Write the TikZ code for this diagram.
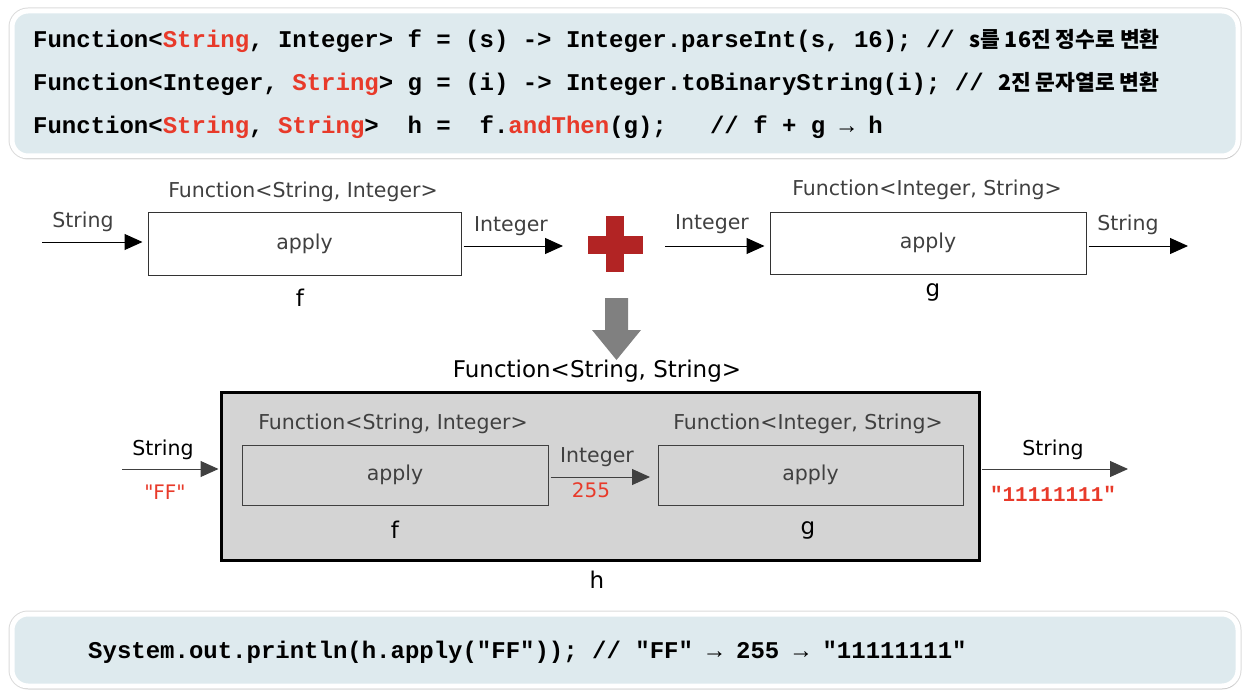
\documentclass[tikz,border=0pt]{standalone}
\usepackage{fontspec}
\setmainfont{DejaVu Sans}
\newfontfamily\codefont{Liberation Mono}
\newfontfamily\krfont{Noto Sans CJK KR}
\usetikzlibrary{arrows.meta,shadows}
\definecolor{panelblue}{RGB}{222,234,238}
\definecolor{codered}{RGB}{232,58,42}
\definecolor{plusred}{RGB}{178,36,36}
\definecolor{hgray}{RGB}{212,212,212}
\newcommand{\rd}[1]{\textcolor{codered}{#1}}
\newcommand{\kor}[1]{{\krfont\bfseries\fontsize{21.5}{24}\selectfont #1}}
\newcommand{\qq}{\textquotedbl}

\begin{document}
\begin{tikzpicture}[x=1pt, y=-1pt,
	codepanel/.style = {draw=white, line width=5pt, fill=panelblue, rounded corners=16pt,
		preaction={draw=black!14, line width=7pt},
		drop shadow={shadow xshift=1pt, shadow yshift=-3pt, opacity=0.25}},
	codeline/.style = {anchor=base west, inner sep=0pt, font=\codefont\bfseries\fontsize{24}{28}\selectfont},
	lbl/.style = {inner sep=0pt, text=black!75, font=\fontsize{20.5}{24}\selectfont},
	fnname/.style = {inner sep=0pt, font=\fontsize{23}{27}\selectfont},
	fnbox/.style = {draw=black!80, line width=1pt, fill=white, inner sep=0pt, text=black!75, font=\fontsize{20.5}{24}\selectfont},
	innerbox/.style = {fnbox, fill=none, draw=black!75},
	hbox/.style = {draw=black, line width=3pt, fill=hgray, inner sep=0pt},
	val/.style = {inner sep=0pt, text=codered, font=\fontsize{20}{23}\selectfont},
	arr/.style = {-{Triangle[length=18pt, width=16pt]}, line width=1pt}
	]
	\useasboundingbox (0,0) rectangle (1248,698);
	
	% code panel
	\path[codepanel] (12,11) rectangle (1238,156);
	\node[codeline] (c1) at (33,48) {Function<\rd{String}, Integer> f = (s) -> Integer.parseInt(s, 16); // \kor{s를 16진 정수로 변환}};
	\node[codeline] (c2) at (33,91) {Function<Integer, \rd{String}> g = (i) -> Integer.toBinaryString(i); // \kor{2진 문자열로 변환}};
	\node[codeline] (c3) at (33,134) {Function<\rd{String}, \rd{String}>~~h =~~f.\rd{andThen}(g);~~~// f + g → h};
	
	% f and g
	\node[fnbox, minimum width=313pt, minimum height=63pt] (f) at (304.5,243.5) {apply};
	\node[fnbox, minimum width=316pt, minimum height=62pt] (g) at (928,243) {apply};
	\node[lbl] (ftitle) at (303,192) {Function<String, Integer>};
	\node[lbl] (gtitle) at (927,190) {Function<Integer, String>};
	\node[fnname] (fname) at (300,298) {f};
	\node[fnname] (gname) at (933,292) {g};
	
	\coordinate (fin) at (42,242);
	\coordinate (fout) at (563,246);
	\coordinate (gin) at (665,246);
	\coordinate (gout) at (1188,246);
	\draw[arr, shorten >=5pt] (fin) -- (f.west |- fin);
	\draw[arr, shorten <=2pt] (f.east |- fout) -- (fout);
	\draw[arr, shorten >=5pt] (gin) -- (g.west |- gin);
	\draw[arr, shorten <=2pt] (g.east |- gout) -- (gout);
	\node[lbl] (finlbl) at (83,222) {String};
	\node[lbl] (foutlbl) at (511,226) {Integer};
	\node[lbl] (ginlbl) at (712,224) {Integer};
	\node[lbl] (goutlbl) at (1128,225) {String};
	
	% plus and down arrow
	\fill[plusred] (588,236) rectangle (643,254);
	\fill[plusred] (606,216) rectangle (624,272);
	\fill[black!50] (605,298) -- (628,298) -- (628,330) -- (641,330) -- (616.5,360) -- (592,330) -- (605,330) -- cycle;
	
	% h = f.andThen(g)
	\node[fnname] (htitle) at (597,371) {Function<String, String>};
	\node[hbox, minimum width=758pt, minimum height=168pt] (h) at (600,476) {};
	\node[innerbox, minimum width=306pt, minimum height=60pt] (hf) at (395,475) {apply};
	\node[innerbox, minimum width=305pt, minimum height=60pt] (hg) at (810.5,475) {apply};
	\node[lbl] (hftitle) at (393,424) {Function<String, Integer>};
	\node[lbl] (hgtitle) at (808,424) {Function<Integer, String>};
	\node[fnname] (hfname) at (395,530) {f};
	\node[fnname] (hgname) at (808,530) {g};
	\node[fnname] (hname) at (597,580) {h};
	
	\coordinate (hin) at (122,469);
	\coordinate (hmid) at (650,477);
	\coordinate (hout) at (1128,469);
	\draw[arr, draw=black!75, shorten >=1pt] (hin) -- (h.west |- hin);
	\draw[arr, draw=black!75, shorten <=2pt] (hf.east |- hmid) -- (hmid);
	\draw[arr, draw=black!75, shorten <=1.5pt] (h.east |- hout) -- (hout);
	\node[lbl, text=black] (hinlbl) at (163,450) {String};
	\node[val] (hinval) at (165,492) {\qq FF\qq};
	\node[lbl] (hmidlbl) at (597,457) {Integer};
	\node[val] (hmidval) at (591,490) {255};
	\node[lbl, text=black] (houtlbl) at (1053,450) {String};
	\node[val, font=\codefont\bfseries\fontsize{21}{24}\selectfont] (houtval) at (1053,494) {"11111111"};
	
	% result panel
	\path[codepanel] (12,614) rectangle (1238,686);
	\node[codeline] (c4) at (88,658) {System.out.println(h.apply("FF")); // "FF" → 255 → "11111111"};
	
\end{tikzpicture}
\end{document}
